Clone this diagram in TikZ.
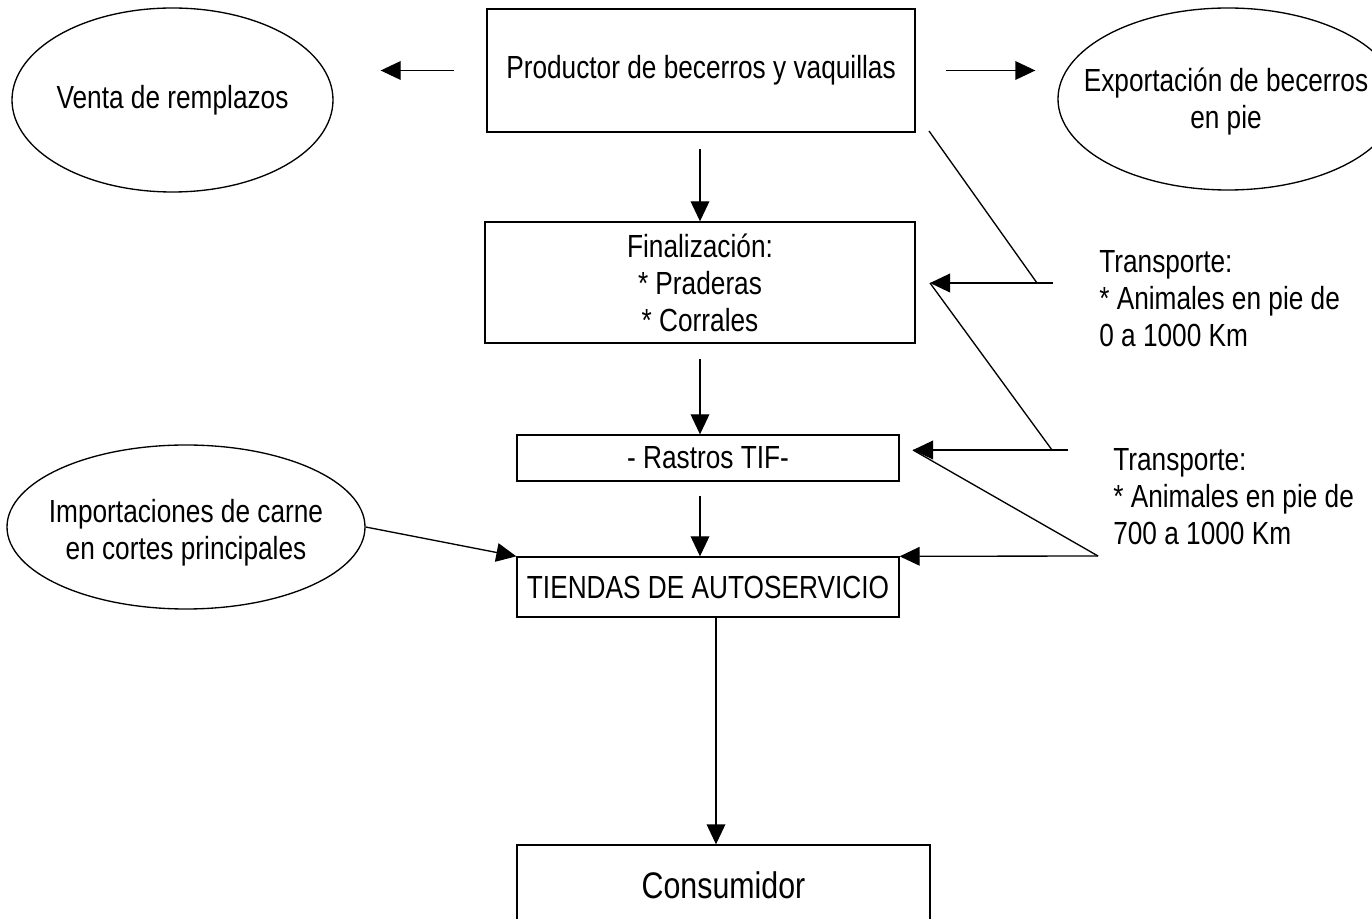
\documentclass[tikz,border=0pt]{standalone}
\usepackage{fontspec}
\setmainfont{Liberation Sans}[FakeStretch=0.82]
\usetikzlibrary{arrows.meta,shapes.geometric}
\begin{document}
\begin{tikzpicture}[x=0.75pt,y=-0.75pt,
  every node/.style={font=\fontsize{24}{27.75}\selectfont},
  box/.style={draw, rectangle, inner sep=0pt, align=center, line width=1pt},
  oval/.style={draw, ellipse, inner sep=0pt, line width=1pt},
  note/.style={anchor=west, align=left, inner sep=0pt},
  arr/.style={-{Triangle[length=15pt,width=14pt]}, line width=1pt},
  ln/.style={line width=1pt}]
\useasboundingbox (0,0) rectangle (1372,919);
\clip (0,0) rectangle (1372,919);
\fill[white] (0,0) rectangle (1372,919);

% main chain
\node[box, minimum width=321pt, minimum height=92.25pt] (prod) at (701,70.5) {Productor de becerros y vaquillas};
\node[box, minimum width=322.5pt, minimum height=90.75pt] (fin) at (700,282.5) {Finalización:\\* Praderas\\* Corrales};
\node[box, minimum width=286.5pt, minimum height=34.5pt] (ras) at (708,458) {- Rastros TIF-};
\node[box, minimum width=286.5pt, minimum height=45pt] (tie) at (708,587) {TIENDAS DE AUTOSERVICIO};
\node[box, minimum width=309.75pt, minimum height=60pt, font=\fontsize{27.75}{32}\selectfont] (con) at (723.5,885) {Consumidor};

% side ovals
\node[oval, minimum width=240.75pt, minimum height=138pt,
      label={center:Venta de remplazos}] (venta) at (172.5,100) {};
\node[oval, minimum width=255pt, minimum height=136.5pt,
      label={[align=center, xshift=-1.5pt, yshift=-2pt]center:Exportación de becerros\\en pie}] (exp) at (1228,99) {};
\node[oval, minimum width=268.5pt, minimum height=123pt,
      label={[align=center, yshift=-4pt]center:Importaciones de carne\\en cortes principales}] (imp) at (186,527) {};

% transport notes
\node[note] (t1) at (1099,299) {Transporte:\\* Animales en pie de\\0 a 1000 Km};
\node[note] (t2) at (1113,497) {Transporte:\\* Animales en pie de\\700 a 1000 Km};

% horizontal arrows at the top
\draw[arr, shorten <=24pt, shorten >=35.25pt] (prod.west) -- (prod.west -| venta.east);
\draw[arr, shorten <=22.5pt, shorten >=16.5pt] (prod.east) -- (prod.east -| exp.west);

% vertical flow
\coordinate (cx) at (716,0);
\draw[arr, shorten <=12pt] (prod.south -| fin.north) -- (fin.north);
\draw[arr, shorten <=11.25pt] (fin.south) -- (ras.north -| fin.south);
\draw[arr, shorten <=10.5pt] (ras.south -| fin.south) -- (tie.north -| fin.south);
\draw[arr] (tie.south -| cx) -- (con.north -| cx);

% imports into the stores
\draw[arr] (imp.east) -- (tie.north west);

% transport connectors
\coordinate (p1) at (929,131);
\coordinate (j1) at (1037,283);
\coordinate (h1) at (1053,283);
\coordinate (a1) at (930,283);
\coordinate (j2) at (1052,450);
\coordinate (h2) at (1068,450);
\coordinate (a2) at (913,450);
\coordinate (j3) at (1098,556);
\draw[ln] (p1) -- (j1);
\draw[arr] (h1) -- (a1);
\draw[ln] (a1) -- (j2);
\draw[arr] (h2) -- (a2);
\draw[ln] (a2) -- (j3);
\draw[arr] (j3) -- (tie.north east);
\end{tikzpicture}
\end{document}
